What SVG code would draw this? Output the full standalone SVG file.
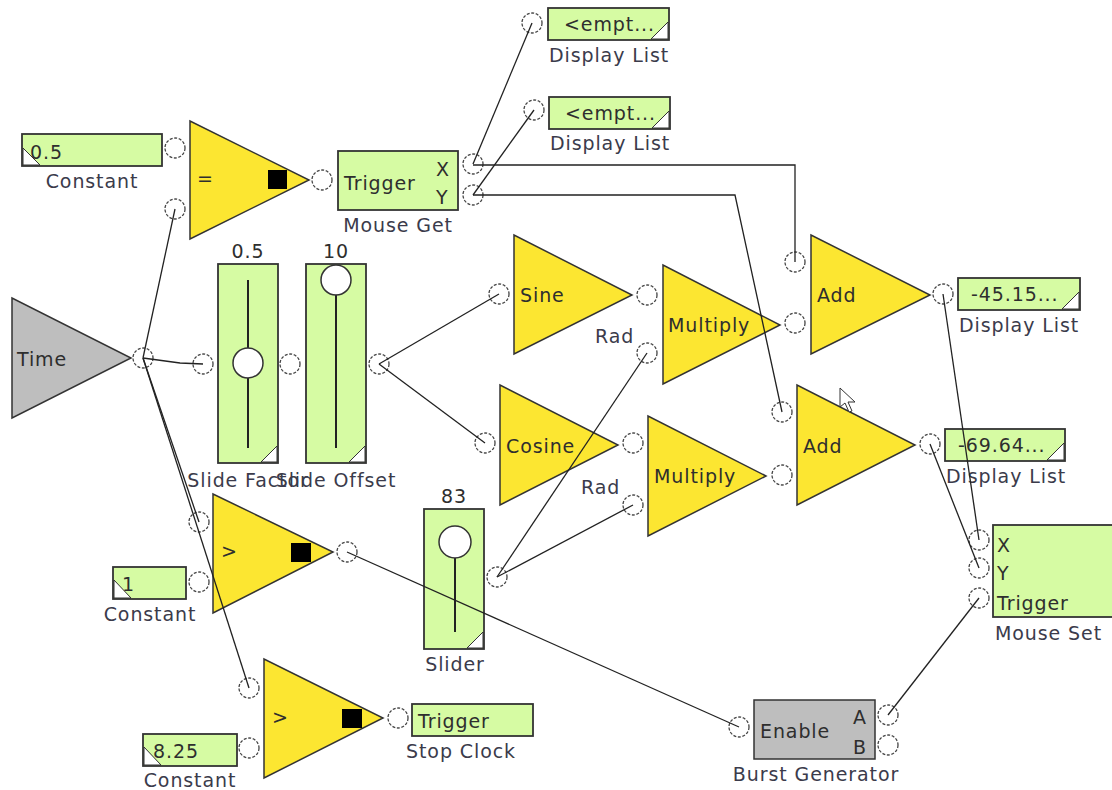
<svg xmlns="http://www.w3.org/2000/svg" width="1112" height="790" viewBox="0 0 1112 790">
<style>
text{font-family:"DejaVu Sans",Verdana,sans-serif;font-size:19px;letter-spacing:0.9px;fill:#2e2e2e}
.lbl{fill:#3b3b4b}
.y{fill:#FCE631;stroke:#333;stroke-width:1.5}
.g{fill:#D6FBA3;stroke:#333;stroke-width:1.8}
.gr{fill:#BEBEBE;stroke:#333;stroke-width:1.5}
.p{fill:#fff;stroke:#444;stroke-width:1.3;stroke-dasharray:3 1.6}
.w{fill:#fff;stroke:#333;stroke-width:1}
.c{fill:none;stroke:#222;stroke-width:1.3}
.k{fill:#000}
.trk{stroke:#222;stroke-width:2}
.knob{fill:#fff;stroke:#333;stroke-width:1.5}
</style>
<rect width="1112" height="790" fill="#fff"/>
<g id="constant1">
<rect class="g" x="22" y="134" width="140" height="32"/>
<polygon class="w" points="23,148 23,165 40,165"/>
<text x="30" y="159">0.5</text>
<text class="lbl" x="92" y="188" text-anchor="middle">Constant</text>
<circle class="p" cx="175" cy="148" r="10"/>
</g>
<g id="equal">
<polygon class="y" points="190,121 190,239 309,180"/>
<text x="197" y="185" font-size="14">=</text>
<rect class="k" x="268" y="170" width="19" height="19"/>
<circle class="p" cx="175" cy="209" r="10"/>
<circle class="p" cx="322" cy="180" r="10"/>
</g>
<g id="mouseget">
<rect class="g" x="338" y="151" width="120" height="59"/>
<text x="344" y="190">Trigger</text>
<text x="436" y="176">X</text>
<text x="436" y="204">Y</text>
<text class="lbl" x="398" y="232" text-anchor="middle">Mouse Get</text>
<circle class="p" cx="473" cy="164" r="10"/>
<circle class="p" cx="473" cy="195" r="10"/>
</g>
<g id="displaylist1">
<rect class="g" x="548" y="8" width="121" height="32"/>
<polygon class="w" points="668,22 668,39 651,39"/>
<text x="564" y="31">&lt;empt...</text>
<text class="lbl" x="609" y="62" text-anchor="middle">Display List</text>
<circle class="p" cx="532" cy="23" r="10"/>
</g>
<g id="displaylist2">
<rect class="g" x="549" y="97" width="121" height="32"/>
<polygon class="w" points="669,111 669,128 652,128"/>
<text x="565" y="120">&lt;empt...</text>
<text class="lbl" x="610" y="150" text-anchor="middle">Display List</text>
<circle class="p" cx="534" cy="110" r="10"/>
</g>
<g id="time">
<polygon class="gr" points="12,298 12,418 131,358"/>
<text x="17" y="366">Time</text>
<circle class="p" cx="143" cy="358" r="10"/>
</g>
<g id="slidefactor">
<rect class="g" x="218" y="264" width="60" height="199"/>
<polygon class="w" points="277,446 277,462 261,462"/>
<line class="trk" x1="248" y1="280" x2="248" y2="448"/>
<circle class="knob" cx="248" cy="363" r="15"/>
<text x="248" y="258" text-anchor="middle">0.5</text>
<text class="lbl" x="248" y="487" text-anchor="middle">Slide Factor</text>
<circle class="p" cx="203" cy="364" r="10"/>
<circle class="p" cx="290" cy="364" r="10"/>
</g>
<g id="slideoffset">
<rect class="g" x="306" y="264" width="60" height="199"/>
<polygon class="w" points="365,446 365,462 349,462"/>
<line class="trk" x1="336" y1="282" x2="336" y2="448"/>
<circle class="knob" cx="336" cy="280" r="15"/>
<text x="336" y="258" text-anchor="middle">10</text>
<text class="lbl" x="336" y="487" text-anchor="middle">Slide Offset</text>
<circle class="p" cx="379" cy="364" r="10"/>
</g>
<g id="sine">
<polygon class="y" points="514,235 514,354 632,295"/>
<text x="520" y="302">Sine</text>
<circle class="p" cx="499" cy="294" r="10"/>
</g>
<g id="cosine">
<polygon class="y" points="500,385 500,505 618,445"/>
<text x="506" y="453">Cosine</text>
<circle class="p" cx="485" cy="443" r="10"/>
</g>
<g id="multiply1">
<polygon class="y" points="663,265 663,384 780,325"/>
<text x="668" y="332">Multiply</text>
<text class="lbl" x="595" y="343">Rad</text>
<circle class="p" cx="647" cy="295" r="10"/>
<circle class="p" cx="647" cy="353" r="10"/>
</g>
<g id="multiply2">
<polygon class="y" points="648,416 648,536 766,476"/>
<text x="654" y="483">Multiply</text>
<text class="lbl" x="581" y="494">Rad</text>
<circle class="p" cx="633" cy="443" r="10"/>
<circle class="p" cx="633" cy="505" r="10"/>
</g>
<g id="add1">
<polygon class="y" points="811,235 811,354 930,295"/>
<text x="817" y="302">Add</text>
<circle class="p" cx="795" cy="262" r="10"/>
<circle class="p" cx="795" cy="323" r="10"/>
<circle class="p" cx="943" cy="294" r="10"/>
</g>
<g id="displaylist3">
<rect class="g" x="958" y="278" width="122" height="32"/>
<polygon class="w" points="1079,292 1079,309 1062,309"/>
<text x="971" y="301">-45.15...</text>
<text class="lbl" x="1019" y="332" text-anchor="middle">Display List</text>
</g>
<g id="add2">
<polygon class="y" points="797,385 797,505 915,445"/>
<text x="803" y="453">Add</text>
<circle class="p" cx="782" cy="412" r="10"/>
<circle class="p" cx="782" cy="475" r="10"/>
<circle class="p" cx="930" cy="444" r="10"/>
</g>
<g id="displaylist4">
<rect class="g" x="945" y="429" width="120" height="32"/>
<polygon class="w" points="1064,443 1064,460 1047,460"/>
<text x="958" y="452">-69.64...</text>
<text class="lbl" x="1006" y="483" text-anchor="middle">Display List</text>
</g>
<g id="cursor">
<polygon points="840,388 840,407 845,403 849,412 852,411 848,402 855,402" fill="#fff" stroke="#333" stroke-width="1"/>
</g>
<g id="mouseset">
<rect class="g" x="993" y="525" width="125" height="92"/>
<text x="997" y="552">X</text>
<text x="997" y="580">Y</text>
<text x="997" y="610">Trigger</text>
<text class="lbl" x="995" y="640">Mouse Set</text>
<circle class="p" cx="979" cy="540" r="10"/>
<circle class="p" cx="979" cy="568" r="10"/>
<circle class="p" cx="979" cy="598" r="10"/>
</g>
<g id="greater1">
<polygon class="y" points="213,494 213,613 333,552"/>
<text x="221" y="558" font-size="15">&gt;</text>
<rect class="k" x="291" y="543" width="20" height="19"/>
<circle class="p" cx="199" cy="522" r="10"/>
<circle class="p" cx="199" cy="582" r="10"/>
<circle class="p" cx="347" cy="552" r="10"/>
</g>
<g id="constant2">
<rect class="g" x="113" y="567" width="73" height="32"/>
<polygon class="w" points="114,580 114,598 131,598"/>
<text x="122" y="591">1</text>
<text class="lbl" x="150" y="621" text-anchor="middle">Constant</text>
</g>
<g id="greater2">
<polygon class="y" points="264,659 264,778 383,718"/>
<text x="272" y="724" font-size="15">&gt;</text>
<rect class="k" x="342" y="709" width="20" height="19"/>
<circle class="p" cx="249" cy="688" r="10"/>
<circle class="p" cx="249" cy="748" r="10"/>
<circle class="p" cx="398" cy="718" r="10"/>
</g>
<g id="constant3">
<rect class="g" x="143" y="734" width="94" height="32"/>
<polygon class="w" points="144,747 144,765 161,765"/>
<text x="153" y="758">8.25</text>
<text class="lbl" x="190" y="787" text-anchor="middle">Constant</text>
</g>
<g id="stopclock">
<rect class="g" x="412" y="704" width="121" height="32"/>
<text x="418" y="728">Trigger</text>
<text class="lbl" x="461" y="758" text-anchor="middle">Stop Clock</text>
</g>
<g id="slider">
<rect class="g" x="424" y="509" width="60" height="140"/>
<polygon class="w" points="483,632 483,648 467,648"/>
<line class="trk" x1="455" y1="557" x2="455" y2="632"/>
<circle class="knob" cx="455" cy="542" r="16"/>
<text x="454" y="503" text-anchor="middle">83</text>
<text class="lbl" x="455" y="671" text-anchor="middle">Slider</text>
<circle class="p" cx="497" cy="577" r="10"/>
</g>
<g id="burstgenerator">
<rect class="gr" x="754" y="700" width="121" height="59"/>
<text x="760" y="738">Enable</text>
<text x="853" y="724">A</text>
<text x="853" y="754">B</text>
<text class="lbl" x="816" y="781" text-anchor="middle">Burst Generator</text>
<circle class="p" cx="739" cy="727" r="10"/>
<circle class="p" cx="888" cy="715" r="10"/>
<circle class="p" cx="888" cy="745" r="10"/>
</g>
<g id="connectors">
<line class="c" x1="143" y1="358" x2="175" y2="209"/>
<polyline class="c" points="143,358 180,363 203,364"/>
<line class="c" x1="143" y1="358" x2="199" y2="522"/>
<line class="c" x1="143" y1="358" x2="249" y2="688"/>
<line class="c" x1="473" y1="164" x2="532" y2="23"/>
<line class="c" x1="473" y1="195" x2="534" y2="110"/>
<polyline class="c" points="473,165 795,165 795,262"/>
<polyline class="c" points="473,195 735,195 782,412"/>
<line class="c" x1="379" y1="364" x2="499" y2="294"/>
<line class="c" x1="379" y1="364" x2="485" y2="443"/>
<line class="c" x1="497" y1="577" x2="647" y2="353"/>
<line class="c" x1="497" y1="577" x2="633" y2="505"/>
<line class="c" x1="943" y1="294" x2="979" y2="540"/>
<line class="c" x1="930" y1="444" x2="979" y2="568"/>
<line class="c" x1="888" y1="715" x2="979" y2="598"/>
<line class="c" x1="347" y1="552" x2="739" y2="727"/>
</g>
</svg>
